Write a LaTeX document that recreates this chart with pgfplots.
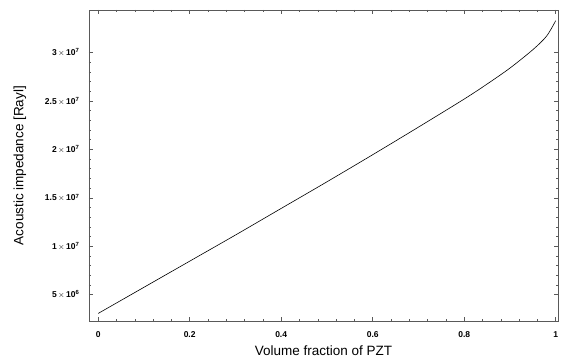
\documentclass[border=0pt]{standalone}
\usepackage{fontspec}
\setmainfont{Liberation Sans}
\usepackage{pgfplots}
\pgfplotsset{compat=1.18}
\usetikzlibrary{calc}
\begin{document}
\begin{tikzpicture}
\begin{axis}[
  scale only axis,
  width=469pt, height=311pt,
  xmin=-0.02, xmax=1.005,
  ymin=2.27e6, ymax=3.44e7,
  xtick={0,0.2,0.4,0.6,0.8,1},
  xticklabels={0,0.2,0.4,0.6,0.8,1},
  ytick={5e6,1e7,1.5e7,2e7,2.5e7,3e7},
  yticklabels={5\,$\times$\,10\textsuperscript{6},1\,$\times$\,10\textsuperscript{7},1.5\,$\times$\,10\textsuperscript{7},2\,$\times$\,10\textsuperscript{7},2.5\,$\times$\,10\textsuperscript{7},3\,$\times$\,10\textsuperscript{7}},
  scaled y ticks=false,
  minor x tick num=4,
  minor y tick num=4,
  tick align=inside,
  major tick length=4pt,
  minor tick length=2pt,
  axis line style={gray!70!black, line width=0.6pt},
  tick style={gray!70!black, line width=0.5pt},
  ticklabel style={font=\bfseries\fontsize{8.5}{9}\selectfont},
  xticklabel style={yshift=-7pt},
  yticklabel style={xshift=-6pt},
  xlabel={Volume fraction of PZT},
  ylabel={Acoustic impedance [Rayl]},
  label style={font=\fontsize{13.5}{15}\selectfont},
  xlabel style={yshift=-1pt},
  ylabel style={yshift=12pt},
]
\addplot[black, line width=0.6pt, smooth] coordinates {
(0,3.05e6) (0.1,5.75e6) (0.2,8.45e6) (0.3,1.115e7) (0.4,1.39e7) (0.5,1.665e7)
(0.6,1.945e7) (0.7,2.23e7) (0.8,2.52e7) (0.85,2.675e7) (0.9,2.84e7)
(0.95,3.03e7) (0.98,3.17e7) (1.0,3.33e7)
};
\end{axis}
\pgfresetboundingbox
\path ($(current axis.south west)+(-89pt,-41pt)$) rectangle ($(current axis.north east)+(6pt,10pt)$);
\end{tikzpicture}
\end{document}
